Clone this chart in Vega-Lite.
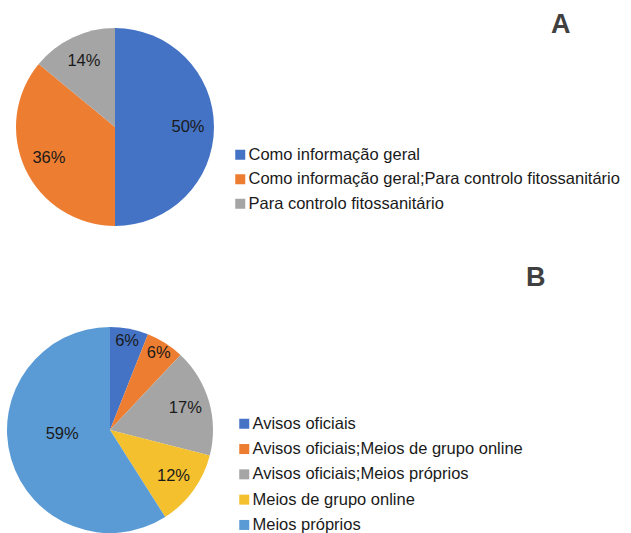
{
  "$schema": "https://vega.github.io/schema/vega-lite/v6.json",
  "padding": {"left": 0, "top": 11, "right": 0, "bottom": 0},
  "autosize": {"type": "pad"},
  "background": "white",
  "bounds": "flush",
  "spacing": 92,
  "config": {
    "view": {"stroke": null},
    "font": "Liberation Sans",
    "legend": {
      "orient": "none",
      "title": null,
      "symbolType": "square",
      "symbolSize": 100,
      "symbolStrokeWidth": 0,
      "labelFontSize": 16.5,
      "labelFont": "Liberation Sans",
      "labelColor": "#1a1a1a",
      "labelLimit": 600,
      "labelOffset": 0,
      "padding": 0
    },
    "title": {
      "anchor": "start",
      "frame": "group",
      "orient": "top",
      "offset": 0,
      "fontSize": 27,
      "fontWeight": "bold",
      "font": "Liberation Sans",
      "color": "#404040"
    }
  },
  "resolve": {
    "scale": {"color": "independent", "theta": "independent"},
    "legend": {"color": "independent"}
  },
  "vconcat": [
    {
      "width": 230,
      "height": 216,
      "title": {"text": "A", "dx": 551, "dy": 24},
      "data": {
        "values": [
          {"cat": "Como informação geral", "value": 50, "label": "50%"},
          {"cat": "Como informação geral;Para controlo fitossanitário", "value": 36, "label": "36%"},
          {"cat": "Para controlo fitossanitário", "value": 14, "label": "14%"}
        ]
      },
      "encoding": {
        "theta": {"field": "value", "type": "quantitative", "stack": true},
        "order": {"field": "cat", "type": "ordinal", "sort": "ascending"}
      },
      "layer": [
        {
          "mark": {"type": "arc", "outerRadius": 99},
          "encoding": {
            "color": {
              "field": "cat",
              "type": "nominal",
              "scale": {
                "domain": ["Como informação geral", "Como informação geral;Para controlo fitossanitário", "Para controlo fitossanitário"],
                "range": ["#4472C4", "#ED7D31", "#A5A5A5"]
              },
              "legend": {"legendX": 232, "legendY": 127.5, "rowPadding": 7.5}
            }
          }
        },
        {
          "mark": {"type": "text", "radius": 73, "fontSize": 16.5, "font": "Liberation Sans", "baseline": "middle", "align": "center"},
          "encoding": {
            "detail": {"field": "cat", "type": "nominal"},
            "text": {"field": "label", "type": "nominal"},
            "color": {"value": "#1a1a1a"}
          }
        }
      ]
    },
    {
      "width": 220,
      "height": 206,
      "title": {"text": "B", "dx": 526, "dy": -31},
      "data": {
        "values": [
          {"cat": "Avisos oficiais", "value": 6, "label": "6%"},
          {"cat": "Avisos oficiais;Meios de grupo online", "value": 6, "label": "6%"},
          {"cat": "Avisos oficiais;Meios próprios", "value": 17, "label": "17%"},
          {"cat": "Meios de grupo online", "value": 12, "label": "12%"},
          {"cat": "Meios próprios", "value": 59, "label": "59%"}
        ]
      },
      "encoding": {
        "theta": {"field": "value", "type": "quantitative", "stack": true},
        "order": {"field": "cat", "type": "ordinal", "sort": "ascending"}
      },
      "layer": [
        {
          "mark": {"type": "arc", "outerRadius": 103},
          "encoding": {
            "color": {
              "field": "cat",
              "type": "nominal",
              "scale": {
                "domain": ["Avisos oficiais", "Avisos oficiais;Meios de grupo online", "Avisos oficiais;Meios próprios", "Meios de grupo online", "Meios próprios"],
                "range": ["#4472C4", "#ED7D31", "#A5A5A5", "#F4C02E", "#5B9BD5"]
              },
              "legend": {"legendX": 236, "legendY": 88.5, "rowPadding": 8.3}
            }
          }
        },
        {
          "mark": {
            "type": "text",
            "radius": {"expr": "datum.cat == 'Meios próprios' ? 48 : (datum.value < 10 ? 91 : 78.5)"},
            "thetaOffset": {"expr": "datum.cat == 'Meios próprios' ? 0.2 : 0"},
            "fontSize": 16.5,
            "font": "Liberation Sans",
            "baseline": "middle",
            "align": "center"
          },
          "encoding": {
            "detail": {"field": "cat", "type": "nominal"},
            "text": {"field": "label", "type": "nominal"},
            "color": {"value": "#1a1a1a"}
          }
        }
      ]
    }
  ]
}
